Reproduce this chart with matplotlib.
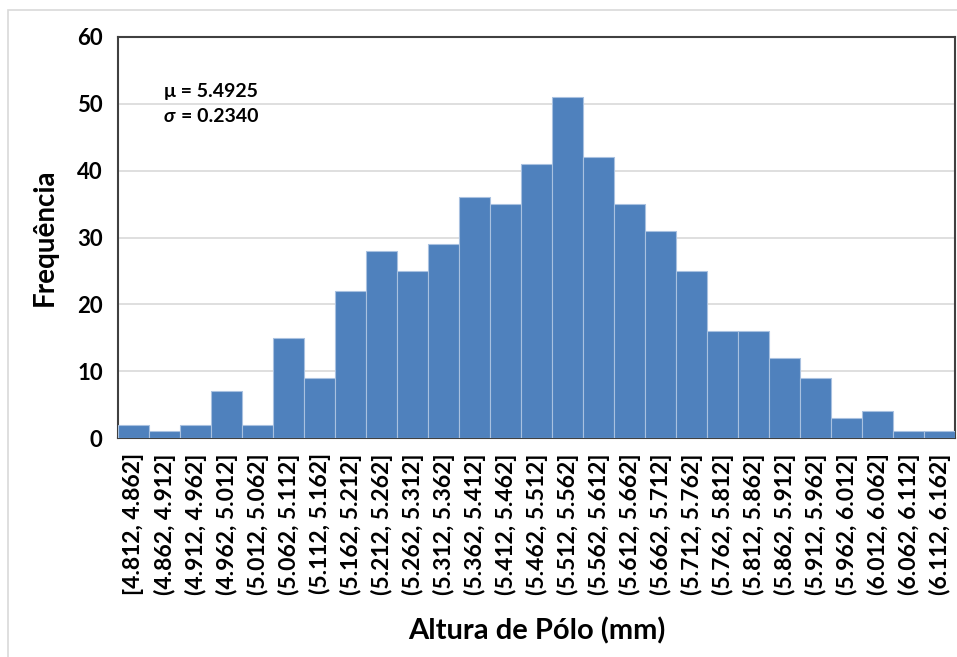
import matplotlib.pyplot as plt
from matplotlib.patches import Rectangle

# histogram of pole height, counts per bin
bins = ["[4.812, 4.862]", "(4.862, 4.912]", "(4.912, 4.962]", "(4.962, 5.012]",
        "(5.012, 5.062]", "(5.062, 5.112]", "(5.112, 5.162]", "(5.162, 5.212]",
        "(5.212, 5.262]", "(5.262, 5.312]", "(5.312, 5.362]", "(5.362, 5.412]",
        "(5.412, 5.462]", "(5.462, 5.512]", "(5.512, 5.562]", "(5.562, 5.612]",
        "(5.612, 5.662]", "(5.662, 5.712]", "(5.712, 5.762]", "(5.762, 5.812]",
        "(5.812, 5.862]", "(5.862, 5.912]", "(5.912, 5.962]", "(5.962, 6.012]",
        "(6.012, 6.062]", "(6.062, 6.112]", "(6.112, 6.162]"]
counts = [2, 1, 2, 7, 2, 15, 9, 22, 28, 25, 29, 36, 35, 41, 51, 42, 35, 31,
          25, 16, 16, 12, 9, 3, 4, 1, 1]
mu = 5.4925
sigma = 0.2340
y_ticks = [0, 10, 20, 30, 40, 50, 60]

plt.rcParams['font.family'] = ['Lato', 'DejaVu Sans']

fig = plt.figure(figsize=(9.57, 6.57), dpi=100)
fig.patches.append(Rectangle((8 / 957, -0.1), 1.1, 0.1 + (1 - 10 / 657),
                             transform=fig.transFigure, fill=False,
                             edgecolor="#D9D9D9", linewidth=1.2))
ax = fig.add_axes([0.1233, 0.3333, 0.8747, 0.6104])

x = range(len(counts))
ax.bar(x, counts, width=1.0, color="#4F81BD", edgecolor="#A9C1E0",
       linewidth=0.8, zorder=3)

ax.set_xlim(-0.5, len(counts) - 0.5)
ax.set_ylim(0, 60)
ax.set_yticks(y_ticks)
ax.set_xticks(list(x))
ax.set_xticklabels(bins, rotation=90, fontsize=16.5, fontweight="bold")
ax.tick_params(axis="x", length=0, pad=11)
ax.tick_params(axis="y", length=0, pad=11)
for lbl in ax.get_yticklabels():
    lbl.set_fontsize(16)
    lbl.set_fontweight("bold")

ax.yaxis.grid(True, color="#D9D9D9", linewidth=1.2, zorder=0)
for s in ax.spines.values():
    s.set_color("#404040")
    s.set_linewidth(1.5)

ax.set_ylabel("Frequência", fontsize=20, fontweight="bold", labelpad=14)
ax.set_xlabel("Altura de Pólo (mm)", fontsize=21, fontweight="bold", labelpad=16)

ax.text(0.055, 0.865, f"μ = {mu:.4f}", transform=ax.transAxes,
        fontsize=14, fontweight="bold", va="center")
ax.text(0.055, 0.802, "σ", transform=ax.transAxes, fontsize=14,
        fontweight="bold", style="italic", va="center")
ax.annotate(f"= {sigma:.4f}", xy=(0.055, 0.802), xycoords="axes fraction",
            xytext=(12, 0), textcoords="offset points", fontsize=14,
            fontweight="bold", va="center")

fig.savefig("out.png", dpi=100)
